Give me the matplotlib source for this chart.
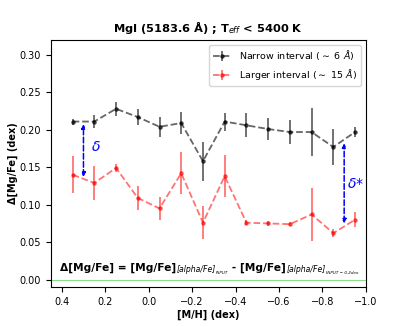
import matplotlib
matplotlib.use("Agg")
import matplotlib.pyplot as plt
import numpy as np

# [M/H] bins
mh = [0.35, 0.25, 0.15, 0.05, -0.05, -0.15, -0.25, -0.35, -0.45, -0.55, -0.65, -0.75, -0.85, -0.95]

# Narrow interval (~6 A)
narrow = [0.211, 0.211, 0.228, 0.217, 0.204, 0.209, 0.158, 0.211, 0.206, 0.201, 0.197, 0.197, 0.177, 0.197]
narrow_err = [0.004, 0.009, 0.009, 0.011, 0.013, 0.015, 0.026, 0.012, 0.016, 0.015, 0.016, 0.032, 0.024, 0.007]

# Larger interval (~15 A)
larger = [0.140, 0.129, 0.149, 0.109, 0.095, 0.142, 0.076, 0.138, 0.076, 0.075, 0.074, 0.087, 0.062, 0.080]
larger_err = [0.025, 0.023, 0.006, 0.016, 0.015, 0.028, 0.022, 0.028, 0.003, 0.003, 0.003, 0.035, 0.005, 0.010]

fig = plt.figure(figsize=(4.07, 3.27), dpi=100)
ax = fig.add_axes([0.125, 0.122, 0.774, 0.756])

ax.errorbar(mh, narrow, yerr=narrow_err, fmt='o', ls='--', color='k', alpha=0.6,
            ms=2.3, lw=1.3, elinewidth=1.3, label=r'Narrow interval ($\sim$ 6 $\AA$)')
ax.errorbar(mh, larger, yerr=larger_err, fmt='o', ls='--', color='red', alpha=0.55,
            ms=2.3, lw=1.3, elinewidth=1.3, label=r'Larger interval ($\sim$ 15 $\AA$)')

ax.axhline(0.0, color='limegreen', lw=0.6, alpha=0.7)

# delta arrows
ax.annotate('', xy=(0.30, 0.2075), xytext=(0.30, 0.137),
            arrowprops=dict(arrowstyle='<|-|>', ls='--', color='blue', lw=1.1,
                            mutation_scale=6, shrinkA=0, shrinkB=0))
ax.text(0.265, 0.177, r'$\delta$', color='blue', fontsize=10, va='center', ha='left')
ax.annotate('', xy=(-0.90, 0.182), xytext=(-0.90, 0.075),
            arrowprops=dict(arrowstyle='<|-|>', ls='--', color='blue', lw=1.1,
                            mutation_scale=6, shrinkA=0, shrinkB=0))
ax.text(-0.915, 0.127, r'$\delta$*', color='blue', fontsize=10, va='center', ha='left')

# formula, built from pieces so the subscripts stay small
t1 = ax.text(0.41, 0.012, 'Δ[Mg/Fe] = [Mg/Fe]', fontsize=7.7, fontweight='bold',
             va='baseline', ha='left')
t2 = ax.annotate('[alpha/Fe]', xy=(1, 0), xycoords=t1, xytext=(0.5, -1.0),
                 textcoords='offset points', fontsize=5.6, style='italic',
                 va='bottom', ha='left')
t3 = ax.annotate('INPUT', xy=(1, 0), xycoords=t2, xytext=(0.2, -0.6),
                 textcoords='offset points', fontsize=3, style='italic',
                 va='bottom', ha='left')
t4 = ax.annotate(' - [Mg/Fe]', xy=(1, 0), xycoords=(t3, t1), xytext=(0, 0),
                 textcoords='offset points', fontsize=7.7, fontweight='bold',
                 va='bottom', ha='left')
t5 = ax.annotate('[alpha/Fe]', xy=(1, 0), xycoords=t4, xytext=(0.5, -1.0),
                 textcoords='offset points', fontsize=5.6, style='italic',
                 va='bottom', ha='left')
ax.annotate('INPUT − 0.2dex', xy=(1, 0), xycoords=t5, xytext=(0.2, -0.6),
            textcoords='offset points', fontsize=3, style='italic',
            va='bottom', ha='left')

ax.set_xlim(0.45, -1.0)
ax.set_ylim(-0.01, 0.32)
ax.set_xticks([0.4, 0.2, 0.0, -0.2, -0.4, -0.6, -0.8, -1.0])
ax.set_yticks([0.0, 0.05, 0.10, 0.15, 0.20, 0.25, 0.30])
ax.tick_params(labelsize=7)

ax.set_xlabel('[M/H] (dex)', fontsize=7, fontweight='bold', labelpad=2)
ax.set_ylabel('Δ[Mg/Fe] (dex)', fontsize=7, fontweight='bold')
ax.yaxis.set_label_coords(-0.105, 0.5)
ax.set_title(r'MgI (5183.6 Å) ; T$_{eff}$ < 5400 K', fontsize=8.2, fontweight='bold')

ax.legend(loc='upper right', fontsize=6.8)

fig.savefig('out.png', dpi=100)
